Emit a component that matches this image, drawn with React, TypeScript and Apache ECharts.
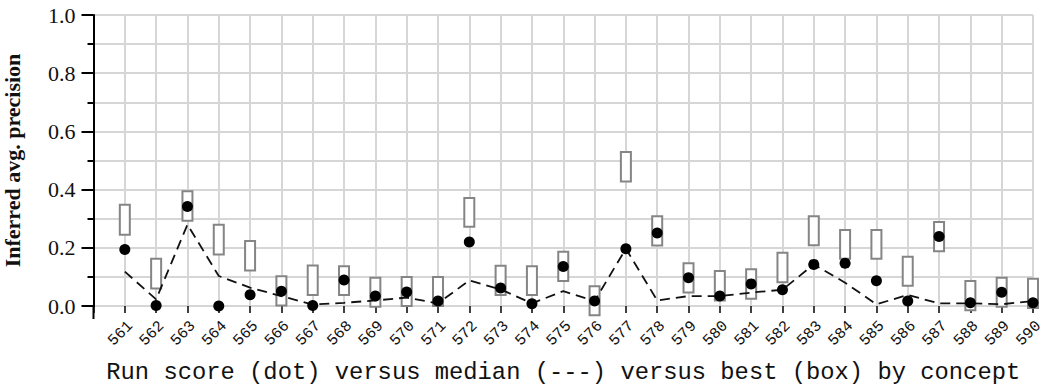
import React, { useEffect, useRef } from "react";
import * as echarts from "echarts";

const concepts = [561, 562, 563, 564, 565, 566, 567, 568, 569, 570, 571, 572, 573, 574, 575, 576, 577, 578, 579, 580, 581, 582, 583, 584, 585, 586, 587, 588, 589, 590];
const runScore = [0.194, 0.002, 0.342, 0.0, 0.039, 0.051, 0.002, 0.089, 0.034, 0.048, 0.017, 0.22, 0.062, 0.008, 0.136, 0.017, 0.197, 0.251, 0.097, 0.034, 0.076, 0.056, 0.143, 0.147, 0.087, 0.017, 0.239, 0.011, 0.047, 0.011];
const medianScore = [0.118, 0.023, 0.28, 0.103, 0.063, 0.034, 0.005, 0.011, 0.019, 0.029, 0.009, 0.088, 0.057, 0.009, 0.051, 0.017, 0.197, 0.019, 0.034, 0.034, 0.046, 0.056, 0.143, 0.08, 0.006, 0.038, 0.009, 0.009, 0.006, 0.017];
const bestHigh = [0.348, 0.162, 0.394, 0.279, 0.223, 0.102, 0.139, 0.137, 0.097, 0.1, 0.1, 0.371, 0.138, 0.137, 0.186, 0.068, 0.529, 0.308, 0.147, 0.12, 0.126, 0.183, 0.308, 0.261, 0.261, 0.169, 0.289, 0.086, 0.097, 0.094];
const bestLow = [0.245, 0.06, 0.293, 0.177, 0.122, 0.002, 0.038, 0.038, -0.003, 0.0, 0.0, 0.272, 0.038, 0.038, 0.086, -0.032, 0.428, 0.208, 0.046, 0.019, 0.025, 0.082, 0.209, 0.162, 0.162, 0.07, 0.188, -0.015, -0.003, -0.007];
const yTicks = [0, 0.2, 0.4, 0.6, 0.8, 1.0];

export default function App() {
  const ref = useRef<HTMLDivElement>(null);
  useEffect(() => {
    if (!ref.current) return;
    const chart = echarts.init(ref.current, null, { renderer: "svg" });
    const gridColor = "#d6d6d6";
    const option: any = {
      animation: false,
      backgroundColor: "#ffffff",
      grid: { left: 93.5, right: 11, top: 15, bottom: 78, containLabel: false, outerBoundsMode: "none" },
      xAxis: {
        type: "value",
        min: 560,
        max: 590,
        interval: 1,
        name: "Run score (dot) versus median (---) versus best (box) by concept",
        nameLocation: "middle",
        nameGap: 54,
        nameTextStyle: { fontFamily: "Liberation Mono", fontSize: 23.8, color: "#111" },
        axisLine: { show: false },
        axisTick: { show: true, length: 7, lineStyle: { color: "#000", width: 1.5 } },
        axisLabel: {
          rotate: 45,
          margin: 12,
          verticalAlign: "top",
          fontFamily: "Liberation Mono",
          fontSize: 15.5,
          color: "#111",
          formatter: (v: number) => (concepts.indexOf(v) >= 0 ? String(v) : ""),
        },
        splitLine: { show: true, lineStyle: { color: gridColor, width: 2 } },
      },
      yAxis: {
        type: "value",
        min: 0,
        max: 1,
        interval: 0.2,
        name: "Inferred avg. precision",
        nameLocation: "middle",
        nameGap: 70,
        nameTextStyle: { fontFamily: "Liberation Serif", fontSize: 22, fontWeight: "bold", color: "#111" },
        axisLine: { show: true, lineStyle: { color: "#000", width: 2 } },
        axisTick: { show: true, length: 12, lineStyle: { color: "#000", width: 2 } },
        minorTick: { show: true, splitNumber: 2, length: 6, lineStyle: { color: "#000", width: 2 } },
        axisLabel: {
          margin: 18,
          fontFamily: "Liberation Serif",
          fontSize: 22,
          color: "#111",
          formatter: (v: number) => (yTicks.some((t) => Math.abs(t - v) < 1e-9) ? v.toFixed(1) : ""),
        },
        splitLine: { show: true, lineStyle: { color: gridColor, width: 2 } },
        minorSplitLine: { show: true, lineStyle: { color: gridColor, width: 2 } },
      },
      graphic: [
        {
          type: "line",
          shape: { x1: 93.5, y1: 306, x2: 93.5, y2: 319 },
          style: { stroke: "#000", lineWidth: 2 },
          z: 10,
        },
      ],
      series: [
        {
          type: "custom",
          clip: false,
          z: 2,
          data: concepts.map((c, i) => [c, bestLow[i], bestHigh[i]]),
          renderItem: (params: any, api: any) => {
            const x = api.value(0);
            const lo = api.coord([x, api.value(1)]);
            const hi = api.coord([x, api.value(2)]);
            const w = 10;
            return {
              type: "rect",
              shape: { x: lo[0] - w / 2, y: hi[1], width: w, height: lo[1] - hi[1] },
              style: { fill: "#ffffff", stroke: "#858585", lineWidth: 2 },
            };
          },
        },
        {
          type: "line",
          z: 3,
          data: concepts.map((c, i) => [c, medianScore[i]]),
          showSymbol: false,
          symbol: "none",
          lineStyle: { color: "#111", width: 1.8, type: [10, 6] },
        },
        {
          type: "scatter",
          z: 4,
          data: concepts.map((c, i) => [c, runScore[i]]),
          symbol: "circle",
          symbolSize: 11,
          itemStyle: { color: "#000", opacity: 1 },
        },
      ],
    };
    chart.setOption(option);
    return () => chart.dispose();
  }, []);
  return (
    <div
      ref={ref}
      style={{ position: "absolute", left: 0, top: 0, width: 1044, height: 384 }}
    />
  );
}
